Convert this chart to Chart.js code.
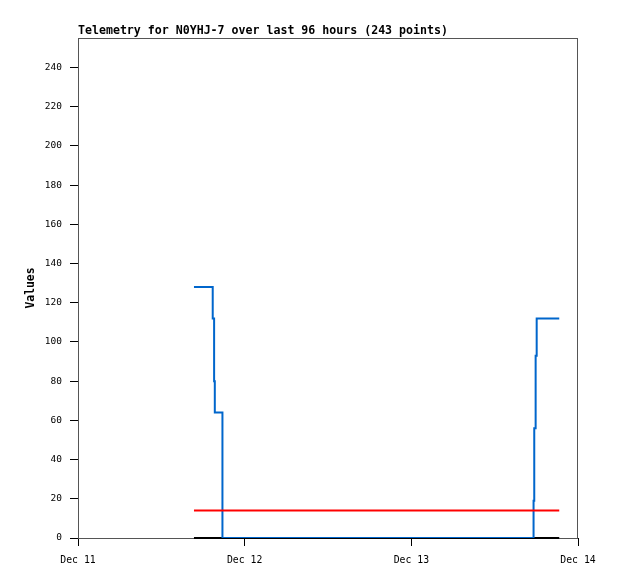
<!DOCTYPE html>
<html>
<head>
<meta charset="utf-8">
<script src="https://cdn.jsdelivr.net/npm/chart.js@4"></script>
<style>
  body { margin: 0; background: #fff; }
</style>
</head>
<body>
<canvas id="chart" width="618" height="579"></canvas>
<script>
// hours since Dec 11 00:00
const dayLabels = ["Dec 11", "Dec 12", "Dec 13", "Dec 14"];
const yTicks = [0, 20, 40, 60, 80, 100, 120, 140, 160, 180, 200, 220, 240];

const blueHours = [16.7, 19.4, 19.6, 19.7, 20.8, 65.6, 65.7, 65.9, 66.05, 69.3];
const blueValues = [128, 112, 80, 64, 0, 19, 56, 93, 112, 112];

const redHours = [16.7, 69.3];
const redValues = [14, 14];

const blackHours = [16.7, 69.3];
const blackValues = [0, 0];

const toPoints = (xs, ys) => xs.map((x, i) => ({ x: x, y: ys[i] }));

const mono = "'DejaVu Sans Mono', 'Liberation Mono', monospace";

// dark gray frame round the plot, black left/bottom axes drawn over it
const framePlugin = {
    id: "frame",
    beforeDatasetsDraw(chart) {
        const a = chart.chartArea;
        const ctx = chart.ctx;
        ctx.save();
        ctx.strokeStyle = "#555555";
        ctx.lineWidth = 1;
        ctx.strokeRect(a.left + 0.5, a.top + 0.5, a.right - a.left - 1, a.bottom - a.top);
        ctx.restore();
    }
};

new Chart(document.getElementById("chart"), {
    type: "line",
    data: {
        datasets: [
            {
                data: toPoints(redHours, redValues),
                borderColor: "#ff0000",
                borderWidth: 2,
                pointRadius: 0,
                stepped: true
            },
            {
                data: toPoints(blueHours, blueValues),
                borderColor: "#0066cc",
                borderWidth: 2,
                pointRadius: 0,
                stepped: true
            },
            {
                data: toPoints(blackHours, blackValues),
                borderColor: "#000000",
                borderWidth: 2,
                pointRadius: 0,
                stepped: true,
                clip: false
            }
        ]
    },
    options: {
        responsive: false,
        animation: false,
        devicePixelRatio: 1,
        layout: { padding: { left: 0, right: 40, top: 0, bottom: 0 } },
        plugins: {
            legend: { display: false },
            tooltip: { enabled: false },
            title: {
                display: true,
                text: "Telemetry for N0YHJ-7 over last 96 hours (243 points)",
                align: "start",
                fullSize: false,
                color: "#000",
                font: { family: mono, size: 11.6, weight: "bold", lineHeight: 1 },
                padding: { top: 25, bottom: 1.4 }
            }
        },
        scales: {
            x: {
                type: "linear",
                min: 0,
                max: 72,
                afterFit: s => { s.height = 41; },
                grid: { drawOnChartArea: false, tickLength: 8, color: "#000" },
                border: { color: "#000", width: 1 },
                ticks: {
                    stepSize: 24,
                    padding: 9,
                    color: "#000",
                    maxRotation: 0,
                    font: { family: mono, size: 9.8 },
                    callback: v => dayLabels[v / 24]
                }
            },
            y: {
                min: 0,
                max: 255,
                afterFit: s => { s.width = 78; },
                afterBuildTicks: s => { s.ticks = yTicks.map(v => ({ value: v })); },
                grid: { drawOnChartArea: false, tickLength: 8, color: "#000" },
                border: { color: "#000", width: 1 },
                title: {
                    display: true,
                    text: "Values",
                    color: "#000",
                    font: { family: mono, size: 11.4, weight: "bold" },
                    padding: { top: 24, bottom: 0 }
                },
                ticks: {
                    padding: 8,
                    color: "#000",
                    font: { family: mono, size: 9.5 }
                }
            }
        }
    },
    plugins: [framePlugin]
});
</script>
</body>
</html>
